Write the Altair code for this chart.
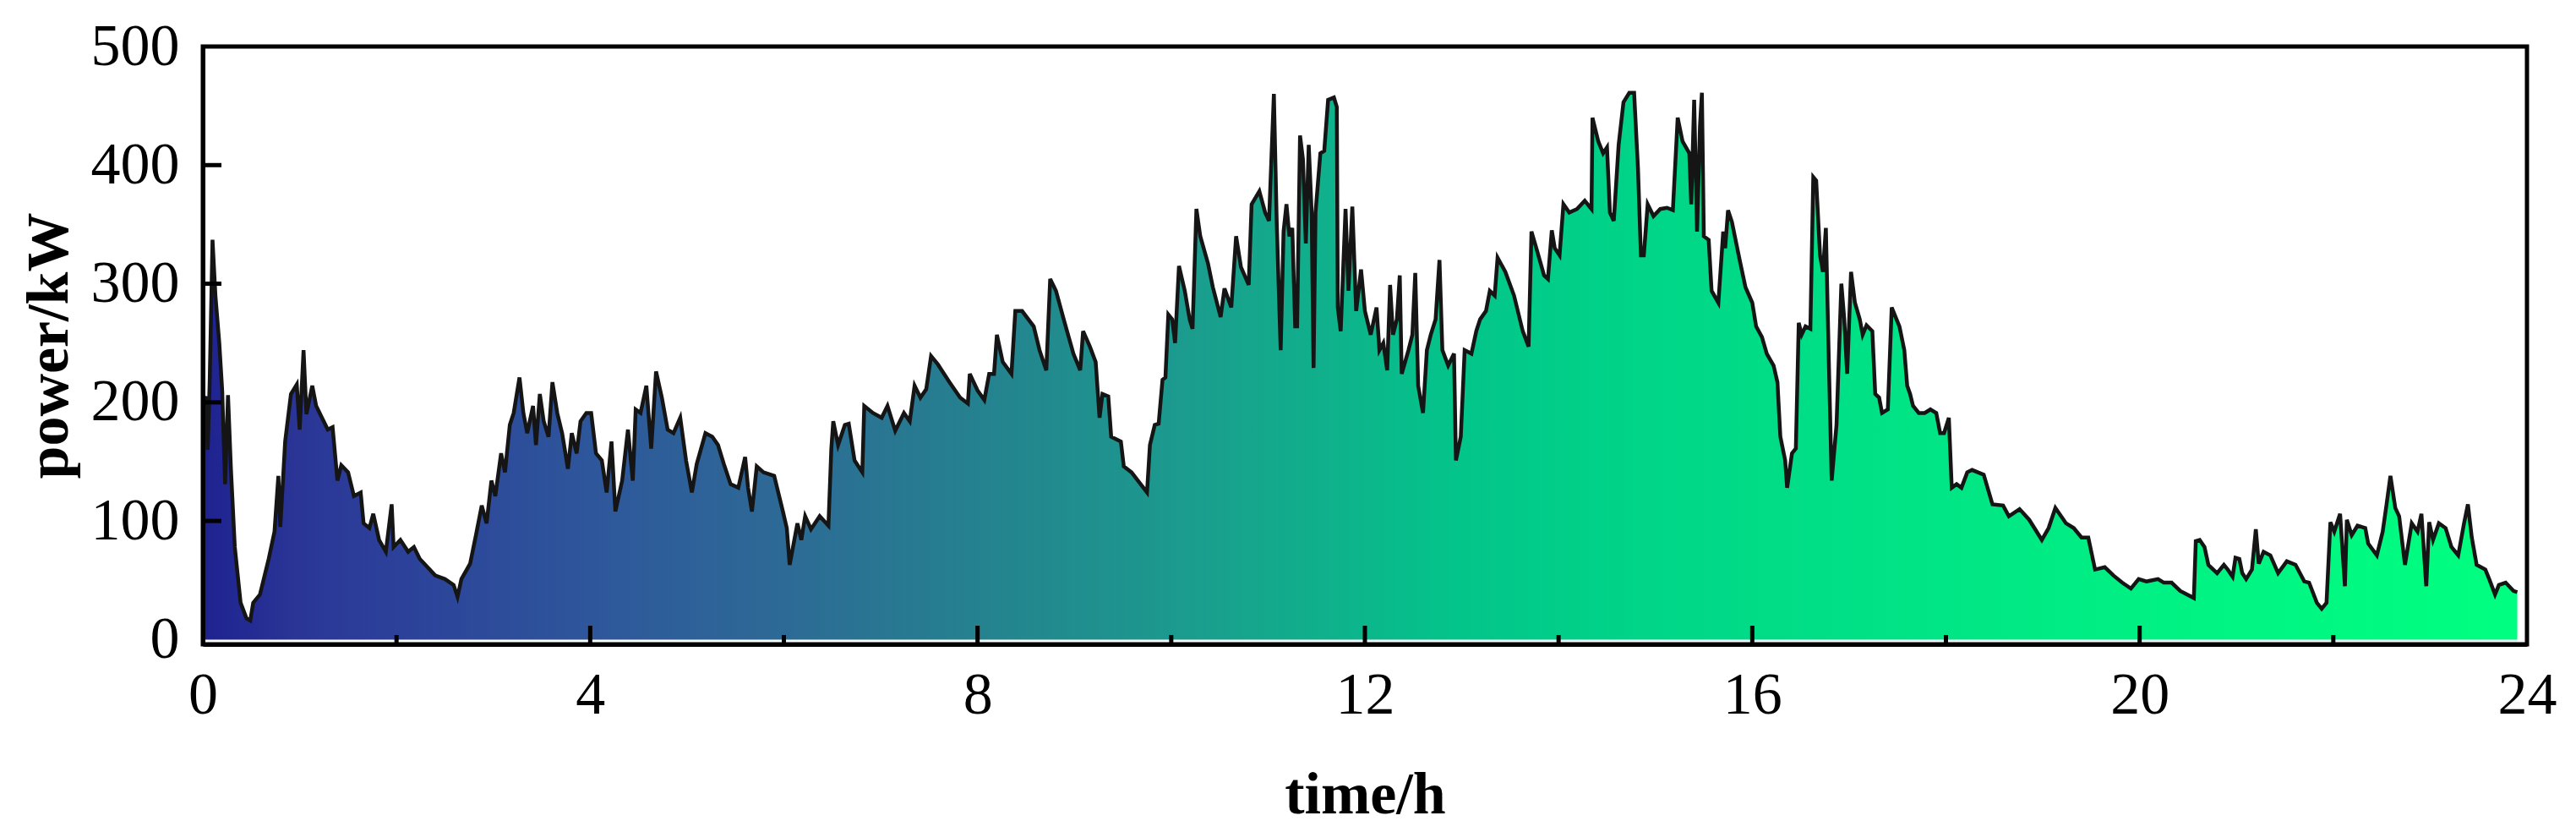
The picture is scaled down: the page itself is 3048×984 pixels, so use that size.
import altair as alt
import pandas as pd

hours = [
    0.00, 0.03, 0.05, 0.07, 0.10, 0.13, 0.17, 0.20, 0.23, 0.26, 0.29, 0.33, 0.39, 0.45, 0.49, 0.52, 0.59,
    0.68, 0.74, 0.78, 0.80, 0.85, 0.91, 0.97, 1.00, 1.04, 1.07, 1.13, 1.17, 1.23, 1.29, 1.34, 1.39, 1.43,
    1.50, 1.56, 1.63, 1.66, 1.72, 1.76, 1.82, 1.89, 1.95, 1.97, 2.04, 2.12, 2.18, 2.24, 2.32, 2.40, 2.50,
    2.59, 2.63, 2.67, 2.76, 2.82, 2.88, 2.93, 2.98, 3.02, 3.08, 3.12, 3.17, 3.21, 3.27, 3.31, 3.35, 3.41,
    3.44, 3.48, 3.52, 3.57, 3.61, 3.66, 3.71, 3.77, 3.81, 3.86, 3.90, 3.96,
    4.01, 4.06, 4.12, 4.17, 4.22, 4.26, 4.33, 4.39, 4.44, 4.47, 4.52, 4.58, 4.63, 4.68, 4.74, 4.80, 4.86,
    4.93, 4.99, 5.05, 5.10, 5.19, 5.26, 5.32, 5.38, 5.45, 5.53, 5.60, 5.63, 5.67, 5.72, 5.79, 5.90, 5.96,
    5.99, 6.03, 6.06, 6.14, 6.18, 6.22, 6.28, 6.37, 6.46, 6.49, 6.51, 6.56, 6.63, 6.67, 6.73, 6.81, 6.83,
    6.92, 7.01, 7.07, 7.15, 7.24, 7.30, 7.35, 7.41, 7.47, 7.52, 7.59, 7.71, 7.82, 7.90, 7.92, 8.00,
    8.07, 8.12, 8.17, 8.20, 8.26, 8.35, 8.39, 8.46, 8.58, 8.64, 8.71, 8.75, 8.81, 8.90, 8.99, 9.06, 9.09,
    9.16, 9.22, 9.26, 9.29, 9.35, 9.38, 9.48, 9.51, 9.59, 9.75, 9.78, 9.83, 9.87, 9.91, 9.94, 9.97, 10.01,
    10.04, 10.08, 10.14, 10.19, 10.22, 10.26, 10.30, 10.38, 10.43, 10.51, 10.55, 10.62, 10.67, 10.72,
    10.80, 10.83, 10.91, 10.97, 11.01, 11.06, 11.09, 11.13, 11.16, 11.19, 11.22, 11.25, 11.28, 11.30,
    11.33, 11.36, 11.39, 11.42, 11.45, 11.47, 11.49, 11.54, 11.58, 11.62, 11.68, 11.71, 11.72, 11.75,
    11.80, 11.83, 11.87, 11.91, 11.96, 12.00,
    12.06, 12.12, 12.15, 12.19, 12.23, 12.26, 12.29, 12.33, 12.36, 12.38, 12.45, 12.49, 12.52, 12.55,
    12.60, 12.64, 12.68, 12.73, 12.77, 12.80, 12.86, 12.92, 12.94, 12.99, 13.03, 13.10, 13.15, 13.19,
    13.25, 13.29, 13.34, 13.37, 13.45, 13.54, 13.63, 13.69, 13.72, 13.77, 13.85, 13.89, 13.93, 13.96,
    14.01, 14.05, 14.11, 14.19, 14.27, 14.34, 14.35, 14.41, 14.46, 14.50, 14.53, 14.57, 14.62, 14.67,
    14.73, 14.78, 14.82, 14.85, 14.88, 14.92, 14.98, 15.05, 15.12, 15.18, 15.23, 15.28, 15.35, 15.37,
    15.40, 15.43, 15.46, 15.48, 15.50, 15.55, 15.58, 15.65, 15.70, 15.72, 15.75, 15.79, 15.87, 15.93,
    16.00, 16.04,
    16.10, 16.15, 16.22, 16.26, 16.29, 16.34, 16.36, 16.41, 16.45, 16.48, 16.51, 16.55, 16.60, 16.63,
    16.66, 16.70, 16.73, 16.76, 16.79, 16.82, 16.87, 16.92, 16.95, 16.98, 17.02, 17.06, 17.11, 17.14,
    17.18, 17.24, 17.27, 17.31, 17.34, 17.40, 17.44, 17.52, 17.57, 17.60, 17.63, 17.66, 17.72, 17.78,
    17.84, 17.90, 17.94, 17.98, 18.03, 18.06, 18.11, 18.16, 18.22, 18.27, 18.39, 18.48, 18.59, 18.65,
    18.76, 18.86, 18.99, 19.06, 19.13, 19.24, 19.32, 19.40, 19.47, 19.54, 19.64, 19.73, 19.82, 19.91,
    19.99,
    20.07, 20.19, 20.25, 20.33, 20.42, 20.56, 20.58, 20.62, 20.67, 20.71, 20.80, 20.87, 20.91, 20.96,
    20.99, 21.03, 21.06, 21.10, 21.16, 21.20, 21.23, 21.28, 21.35, 21.43, 21.52, 21.61, 21.70, 21.75,
    21.83, 21.88, 21.93, 21.97, 22.01, 22.07, 22.12, 22.14, 22.19, 22.25, 22.33, 22.36, 22.45, 22.51,
    22.55, 22.59, 22.64, 22.68, 22.74, 22.81, 22.87, 22.91, 22.96, 22.99, 23.03, 23.09, 23.16, 23.22,
    23.29, 23.35, 23.39, 23.43, 23.48, 23.57, 23.61, 23.67, 23.71, 23.78, 23.86, 23.90,
]

power = [
    200, 205, 160, 215, 337, 290, 250, 210, 131, 206, 144, 78, 31, 18, 16, 31, 38,
    68, 91, 138, 95, 167, 207, 215, 177, 244, 190, 214, 197, 187, 177, 179, 134, 147,
    141, 121, 124, 98, 94, 106, 84, 74, 114, 78, 84, 74, 78, 68, 61, 54, 51,
    46, 36, 51, 64, 88, 113, 98, 134, 121, 157, 141, 181, 191, 221, 191, 174, 197,
    164, 207, 184, 171, 217, 191, 174, 144, 174, 157, 184, 191,
    191, 157, 151, 124, 167, 108, 134, 177, 134, 194, 191, 214, 161, 226, 204, 177, 174,
    187, 151, 124, 148, 174, 171, 164, 148, 131, 128, 154, 128, 108, 146, 141, 138, 118,
    108, 94, 63, 98, 84, 104, 93, 104, 96, 161, 184, 164, 181, 182, 151, 141, 197,
    191, 187, 197, 176, 191, 184, 214, 204, 211, 239, 232, 217, 204, 199, 224, 210,
    202, 224, 224, 257, 234, 224, 277, 277, 264, 244, 227, 304, 294, 267, 241, 227, 260,
    247, 234, 187, 207, 205, 171, 167, 146, 141, 124, 164, 181, 182, 219, 221, 274, 270,
    250, 315, 294, 270, 262, 363, 340, 317, 297, 272, 296, 280, 340, 314,
    299, 367, 378, 360, 353, 460, 350, 244, 344, 367, 340, 347, 264, 264,
    425, 405, 334, 417, 360, 229, 360, 410, 412, 455, 457, 449, 280, 260,
    363, 294, 365, 277, 312, 277,
    257, 280, 244, 250, 227, 299, 257, 270, 307, 224, 244, 257, 309, 214,
    191, 244, 257, 270, 320, 244, 231, 241, 151, 171, 244, 241, 260, 270,
    277, 294, 290, 322, 310, 290, 260, 247, 344, 330, 307, 304, 345, 330,
    324, 367, 360, 363, 370, 363, 440, 420, 410, 415, 360, 353, 417, 453,
    461, 461, 397, 324, 324, 367, 357, 363, 364, 362, 440, 420, 410, 367,
    455, 344, 433, 461, 340, 337, 294, 284, 344, 330, 362, 352, 320, 297,
    284, 264,
    255, 241, 231, 217, 171, 151, 128, 157, 161, 267, 257, 264, 262, 390,
    387, 324, 310, 347, 237, 134, 181, 300, 270, 224, 310, 284, 270, 257,
    265, 260, 207, 204, 191, 194, 280, 264, 244, 214, 207, 197, 191, 191,
    194, 191, 174, 174, 187, 128, 131, 128, 141, 143, 139, 114, 113, 104,
    110, 101, 84, 94, 111, 98, 94, 86, 86, 59, 61, 54, 48, 43,
    51,
    49, 51, 48, 48, 41, 35, 83, 84, 78, 63, 56, 63, 59, 53,
    69, 68, 56, 51, 59, 93, 64, 74, 71, 56, 66, 63, 49, 48,
    31, 26, 31, 99, 91, 106, 45, 101, 88, 96, 94, 81, 71, 91,
    114, 138, 111, 104, 63, 98, 91, 106, 45, 99, 84, 98, 94, 78,
    71, 98, 114, 86, 63, 59, 51, 38, 46, 48, 41, 40,
]

x_ticks = [0, 4, 8, 12, 16, 20, 24]
x_major_inner = [4, 8, 12, 16, 20]
x_minor_inner = [2, 6, 10, 14, 18, 22]
y_ticks = [0, 100, 200, 300, 400, 500]
y_inner = [100, 200, 300, 400]

grad_offsets = [0.0, 0.04, 0.08, 0.17, 0.25, 0.33, 0.42, 0.50, 0.54, 0.62, 0.75, 0.87, 1.0]
grad_colors = ["#1e2290", "#2a3596", "#2c409a", "#2e579b", "#2d6a96", "#25808f", "#1c9a8e",
               "#0cb68b", "#03c48a", "#00d588", "#00e585", "#00f483", "#00ff80"]

W, H = 2750, 707
FONT = "Liberation Serif"

df = pd.DataFrame({"time": hours, "power": power})

xscale = alt.Scale(domain=[0, 24], nice=False, zero=False)
yscale = alt.Scale(domain=[-4, 500], nice=False, zero=False)

x_axis = alt.Axis(
    values=x_ticks, format="d", title="time/h",
    labelFont=FONT, labelFontSize=70, labelColor="black",
    labelBaseline="alphabetic", labelPadding=81, labelFlush=False, labelOverlap=False,
    ticks=False, tickSize=0, grid=False,
    domain=True, domainColor="black", domainWidth=5, zindex=1,
    titleFont=FONT, titleFontSize=70, titleFontWeight="bold", titleColor="black",
    titleBaseline="alphabetic", titleY=199, titleX=W / 2, titleAlign="center",
)
y_axis = alt.Axis(
    values=y_ticks, format="d", title="power/kW",
    labelFont=FONT, labelFontSize=70, labelColor="black",
    labelPadding=28, labelFlush=False, labelOverlap=False, labelBaseline="middle",
    ticks=False, tickSize=0, grid=False,
    domain=True, domainColor="black", domainWidth=5, zindex=1,
    titleFont=FONT, titleFontSize=70, titleFontWeight="bold", titleColor="black",
    titleAngle=270, titleBaseline="alphabetic", titleX=-161, titleY=H / 2, titleAlign="center",
)

X = alt.X("time:Q", scale=xscale, axis=x_axis)
Y = alt.Y("power:Q", scale=yscale, axis=y_axis)

gradient = alt.LinearGradient(
    gradient="linear", x1=0, x2=1, y1=0, y2=0,
    stops=[alt.GradientStop(offset=o, color=c) for o, c in zip(grad_offsets, grad_colors)],
)

area = alt.Chart(df).mark_area(color=gradient).encode(x=X, y=Y)
line = alt.Chart(df).mark_line(color="#151515", strokeWidth=4.5).encode(x=X, y=Y)

major = alt.Chart(pd.DataFrame({"time": x_major_inner})).mark_rule(color="black", strokeWidth=5).encode(
    x=X, y=alt.value(H), y2=alt.value(H - 22)
)
minor = alt.Chart(pd.DataFrame({"time": x_minor_inner})).mark_rule(color="black", strokeWidth=5).encode(
    x=X, y=alt.value(H), y2=alt.value(H - 11)
)
yt = alt.Chart(pd.DataFrame({"power": y_inner})).mark_rule(color="black", strokeWidth=5).encode(
    y=Y, x=alt.value(0), x2=alt.value(22)
)

chart = alt.layer(area, line, major, minor, yt).properties(
    width=W, height=H,
    autosize=alt.AutoSizeParams(type="none"),
    padding={"left": 232, "top": 47, "right": 40, "bottom": 220},
    background="white",
).configure_view(stroke="black", strokeWidth=5)

chart.save("out.html", embed_options={"renderer": "svg", "actions": False})
